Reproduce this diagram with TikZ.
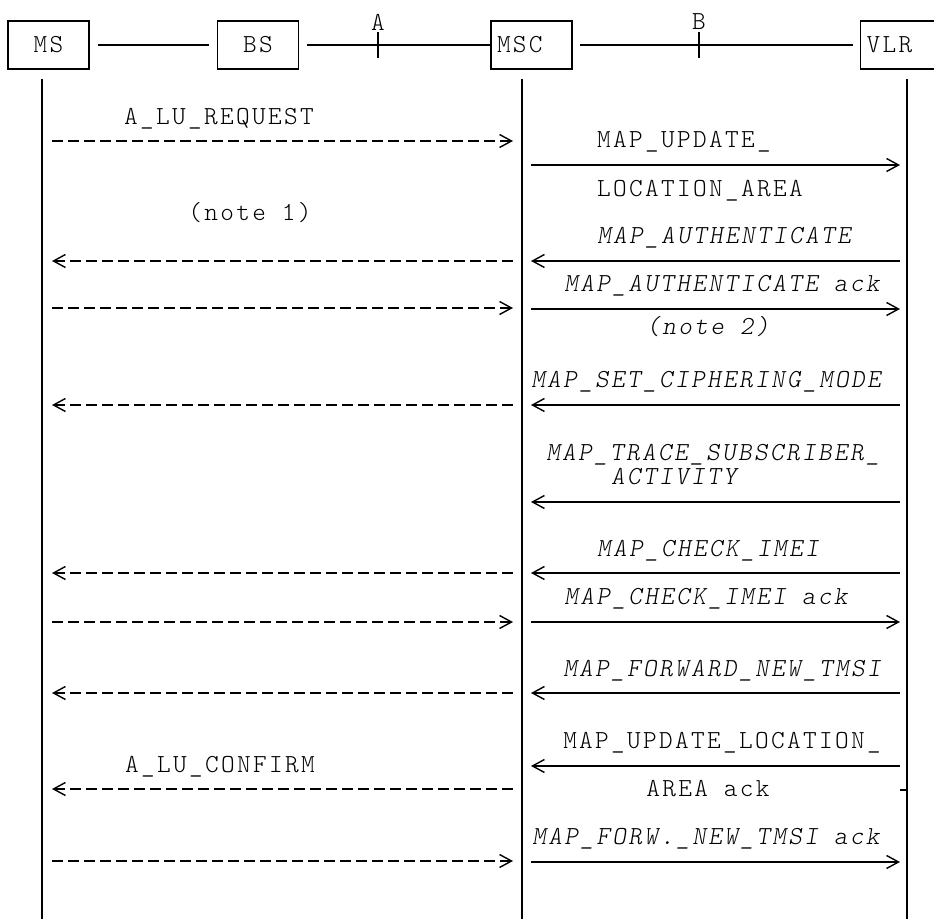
\documentclass[tikz,border=0pt]{standalone}
\usepackage{fontspec}
\setmonofont{lmmonolt10-regular.otf}[ItalicFont=lmmonolt10-oblique.otf, LetterSpace=9]
\usetikzlibrary{arrows.meta, calc}
\tikzset{
	ent/.style ={rectangle, draw=black, line width=0.7pt, minimum width=40.5pt, minimum height=24pt, inner sep=0pt, font=\ttfamily\fontsize{13}{16}\selectfont},
	entl/.style={ent, text width=34.5pt, align=left, inner xsep=3pt},
	lbl/.style ={anchor=base, inner sep=0pt, font=\ttfamily\fontsize{13}{16}\selectfont},
	ilbl/.style={anchor=base, inner sep=0pt, font=\ttfamily\fontsize{13}{16}\selectfont\itshape},
	life/.style={line width=0.9pt},
	link/.style={line width=0.7pt},
	msg/.style ={line width=0.7pt},
	dmsg/.style={msg, dash pattern=on 5.5pt off 2.5pt},
	>={Straight Barb[length=6pt, width=6.5pt]},
}
\begin{document}
\begin{tikzpicture}[x=0.5pt, y=-0.5pt]
	\useasboundingbox (0,0) rectangle (934,919);
	\clip (0,0) rectangle (934,919);
	% entities
	\node[ent] (ms) at (48.5,45) {MS};
	\node[ent] (bs) at (258,45) {BS};
	\node[entl] (msc) at (531.5,45) {MSC};
	\node[entl, anchor=west] (vlr) at (860,45) {VLR};
	% interfaces
	\draw[link, shorten <=4pt, shorten >=4pt] (ms) -- (bs);
	\draw[link, shorten <=4pt] (bs) -- (msc);
	\draw[link, shorten <=3.5pt, shorten >=3.5pt] (msc) -- (vlr);
	\coordinate (ifA) at (378,45);
	\coordinate (ifB) at (699,45);
	\foreach \c/\t in {ifA/A, ifB/B} {
		\draw[link] ($(\c)+(0,-13)$) -- ($(\c)+(0,13)$);
		\node[lbl, anchor=center] (lab\t) at ($(\c)+(0,-23)$) {\t};
	}
	% lifelines
	\foreach \n/\x in {ms/42, msc/522, vlr/907} {
		\coordinate (\n-top) at (\x,79);
		\coordinate (\n-bot) at (\x,919);
		\draw[life] (\n-top) -- (\n-bot);
	}
	% message columns
	\coordinate (colA) at (52,0);
	\coordinate (colB) at (513,0);
	\coordinate (colC) at (531,0);
	\coordinate (colD) at (900,0);
	% MS <-> MSC
	\foreach \y/\d in {141/->, 261/<-, 308/->, 405/<-, 573/<-, 622/->, 693/<-, 789/<-, 861/->}
		\draw[dmsg, \d] ($(colA)+(0,\y)$) -- ($(colB)+(0,\y)$);
	% MSC <-> VLR
	\foreach \y/\d in {165/->, 261/<-, 309/->, 405/<-, 502/<-, 573/<-, 622/->, 693/<-, 766/<-, 862/->}
		\draw[msg, \d] ($(colC)+(0,\y)$) -- ($(colD)+(0,\y)$);
	\draw[msg] ($(colD)+(0,790)$) -- ($(colD)+(7,790)$);
	% message labels
	\foreach \x/\y/\s/\t [count=\i] in {
		219/125/lbl/A\_LU\_REQUEST,
		250/221/lbl/(note 1),
		220/773/lbl/A\_LU\_CONFIRM,
		684/148/lbl/MAP\_UPDATE\_,
		700/197/lbl/LOCATION\_AREA,
		724/244/ilbl/MAP\_AUTHENTICATE,
		722/292/ilbl/MAP\_AUTHENTICATE ack,
		708/335/ilbl/(note 2),
		706/388/ilbl/MAP\_SET\_CIPHERING\_MODE,
		713/461/ilbl/MAP\_TRACE\_SUBSCRIBER\_,
		674/485/ilbl/ACTIVITY,
		708/557/ilbl/MAP\_CHECK\_IMEI,
		706/605/ilbl/MAP\_CHECK\_IMEI ack,
		722/677/ilbl/MAP\_FORWARD\_NEW\_TMSI,
		722/749/lbl/MAP\_UPDATE\_LOCATION\_,
		708/797/lbl/AREA ack,
		706/845/ilbl/MAP\_FORW.\_NEW\_TMSI ack}
		\node[\s] (msg\i) at (\x,\y) {\t};
\end{tikzpicture}
\end{document}
